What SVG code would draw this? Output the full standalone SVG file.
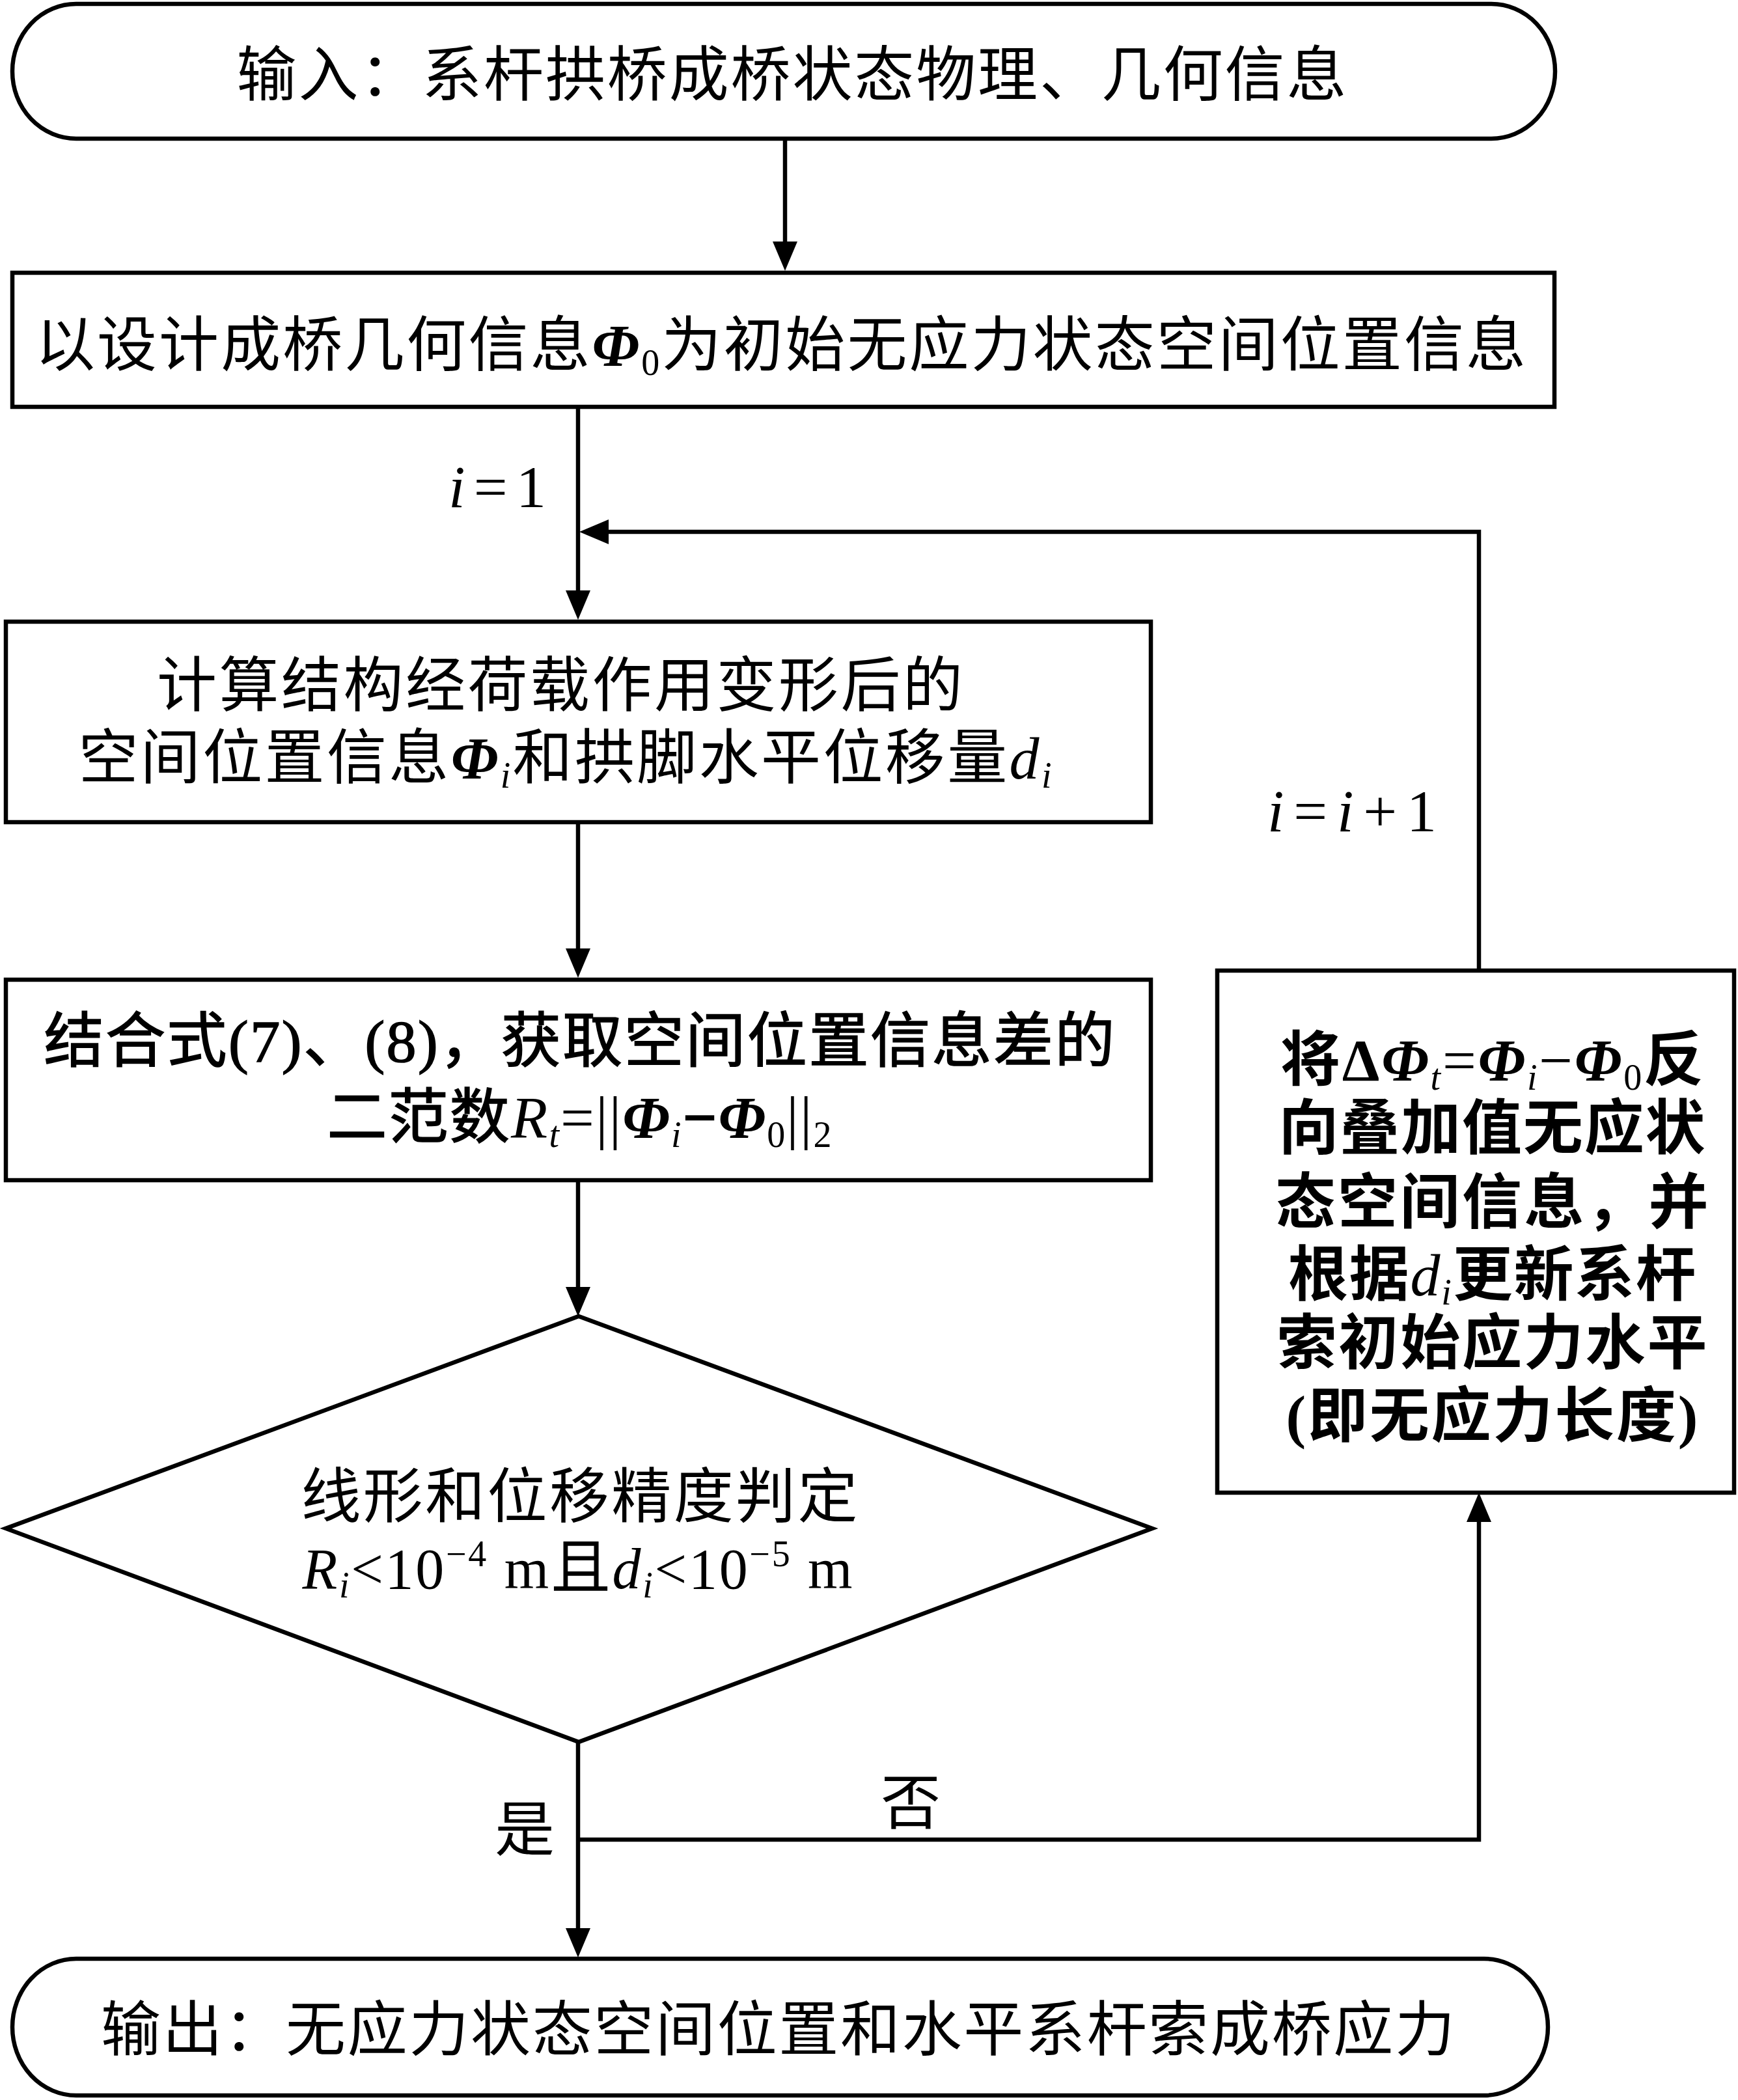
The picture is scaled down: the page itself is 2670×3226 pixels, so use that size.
<svg xmlns="http://www.w3.org/2000/svg" width="2670" height="3226" viewBox="0 0 2670 3226">
<style>
.shape{fill:#fff;stroke:#000;stroke-width:6.5}
.conn{fill:none;stroke:#000;stroke-width:6.5;stroke-linejoin:miter}
text{font-family:"Liberation Serif","Noto Sans CJK SC",serif;font-size:92px;fill:#000}
.b{font-weight:bold}
.m{stroke:#000;stroke-width:1.6}
.phi{font-family:"Liberation Serif",serif;font-weight:bold;font-style:italic}
.it{font-family:"Liberation Serif",serif;font-style:italic}
.sub{font-size:56px}
.lat{font-family:"Liberation Serif",serif}
</style>
<defs>
<marker id="ah" viewBox="0 0 45 38" refX="20" refY="19" markerWidth="45" markerHeight="38" markerUnits="userSpaceOnUse" orient="auto">
<path d="M0,0 L45,19 L0,38 Z" fill="#000"/>
</marker>
</defs>
<rect width="2670" height="3226" fill="#fff"/>
<g id="connectors">
<path class="conn" d="M1206,213 V391" marker-end="url(#ah)"/>
<path class="conn" d="M888,627 V927" marker-end="url(#ah)"/>
<path class="conn" d="M2272,1490 V817 H915" marker-end="url(#ah)"/>
<path class="conn" d="M888,1263 V1477" marker-end="url(#ah)"/>
<path class="conn" d="M888,1814 V1997" marker-end="url(#ah)"/>
<path class="conn" d="M888,2676 V2982" marker-end="url(#ah)"/>
<path class="conn" d="M888,2826 H2272 V2318" marker-end="url(#ah)"/>
<text class="lat" x="689" y="779" font-size="90" textLength="150" lengthAdjust="spacing"><tspan class="it">i</tspan>=1</text>
<text class="lat" x="1947" y="1277" font-size="88" textLength="260" lengthAdjust="spacing"><tspan class="it">i</tspan> = <tspan class="it">i</tspan> + 1</text>
<text x="806" y="2843" text-anchor="middle">是</text>
<text x="1399" y="2802" text-anchor="middle">否</text>
</g>
<g id="start">
<rect class="shape" x="19" y="6" width="2370" height="207" rx="98" ry="103"/>
<text x="1216" y="147" text-anchor="middle" textLength="1705" lengthAdjust="spacing">输入：系杆拱桥成桥状态物理、几何信息</text>
</g>
<g id="init">
<rect class="shape" x="19" y="419" width="2369" height="206"/>
<text x="1199" y="562" text-anchor="middle" textLength="2290" lengthAdjust="spacing">以设计成桥几何信息<tspan class="phi">Φ</tspan><tspan class="sub lat" dy="14">0</tspan><tspan dy="-14">为初始无应力状态空间位置信息</tspan></text>
</g>
<g id="compute">
<rect class="shape" x="9" y="955" width="1759" height="308"/>
<text x="860" y="1085" text-anchor="middle" textLength="1238" lengthAdjust="spacing">计算结构经荷载作用变形后的</text>
<text x="868" y="1196" text-anchor="middle" textLength="1495" lengthAdjust="spacing">空间位置信息<tspan class="phi">Φ</tspan><tspan class="sub it" dy="14">i</tspan><tspan dy="-14">和拱脚水平位移量</tspan><tspan class="it">d</tspan><tspan class="sub it" dy="14">i</tspan></text>
</g>
<g id="norm">
<rect class="shape" x="9" y="1505" width="1759" height="308"/>
<text class="m" x="890" y="1631" text-anchor="middle" textLength="1645" lengthAdjust="spacing">结合式(7)、(8)，获取空间位置信息差的</text>
<text class="m" x="890" y="1748" text-anchor="middle" textLength="775" lengthAdjust="spacing">二范数<tspan class="it" stroke-width="0">R</tspan><tspan class="sub it" stroke-width="0" dy="14">t</tspan><tspan class="lat" stroke-width="0" dy="-14">=||</tspan><tspan class="phi" stroke-width="0">Φ</tspan><tspan class="sub it" stroke-width="0" dy="14">i</tspan><tspan class="lat" font-weight="bold" dy="-14">−</tspan><tspan class="phi" stroke-width="0">Φ</tspan><tspan class="sub lat" stroke-width="0" dy="14">0</tspan><tspan class="lat" stroke-width="0" dy="-14">||</tspan><tspan class="sub lat" stroke-width="0" dy="14">2</tspan></text>
</g>
<g id="decision">
<polygon class="shape" points="889,2022 1770,2348 889,2676 9,2348"/>
<text x="890" y="2331" text-anchor="middle" textLength="855" lengthAdjust="spacing">线形和位移精度判定</text>
<text x="887" y="2440" text-anchor="middle" textLength="845" lengthAdjust="spacing"><tspan class="it" font-size="88">R</tspan><tspan class="sub it" dy="14">i</tspan><tspan class="lat" font-size="88" dy="-14">&lt;10</tspan><tspan class="sub lat" dy="-34">−4</tspan><tspan class="lat" font-size="88" dy="34"> m</tspan>且<tspan class="it" font-size="88">d</tspan><tspan class="sub it" dy="14">i</tspan><tspan class="lat" font-size="88" dy="-14">&lt;10</tspan><tspan class="sub lat" dy="-34">−5</tspan><tspan class="lat" font-size="88" dy="34"> m</tspan></text>
</g>
<g id="update">
<rect class="shape" x="1870" y="1491" width="794" height="802"/>
<text class="b" x="2292" y="1660" text-anchor="middle" textLength="650" lengthAdjust="spacing">将<tspan class="lat">Δ</tspan><tspan class="phi">Φ</tspan><tspan class="sub it" font-weight="normal" dy="14">t</tspan><tspan class="lat" font-weight="normal" dy="-14">=</tspan><tspan class="phi">Φ</tspan><tspan class="sub it" font-weight="normal" dy="14">i</tspan><tspan class="lat" font-weight="normal" dy="-14">−</tspan><tspan class="phi">Φ</tspan><tspan class="sub lat" font-weight="normal" dy="14">0</tspan><tspan dy="-14">反</tspan></text>
<text class="b" x="2292" y="1765" text-anchor="middle" textLength="655" lengthAdjust="spacing">向叠加值无应状</text>
<text class="b" x="2292" y="1879" text-anchor="middle" textLength="665" lengthAdjust="spacing">态空间信息，并</text>
<text class="b" x="2292" y="1990" text-anchor="middle" textLength="626" lengthAdjust="spacing">根据<tspan class="it" font-weight="normal">d</tspan><tspan class="sub it" font-weight="normal" dy="14">i</tspan><tspan dy="-14">更新系杆</tspan></text>
<text class="b" x="2292" y="2095" text-anchor="middle" textLength="661" lengthAdjust="spacing">索初始应力水平</text>
<text class="b" x="2292" y="2207" text-anchor="middle" textLength="633" lengthAdjust="spacing">(即无应力长度)</text>
</g>
<g id="end">
<rect class="shape" x="19" y="3009" width="2359" height="210" rx="98" ry="105"/>
<text x="1195" y="3150" text-anchor="middle" textLength="2080" lengthAdjust="spacing">输出：无应力状态空间位置和水平系杆索成桥应力</text>
</g>
</svg>
